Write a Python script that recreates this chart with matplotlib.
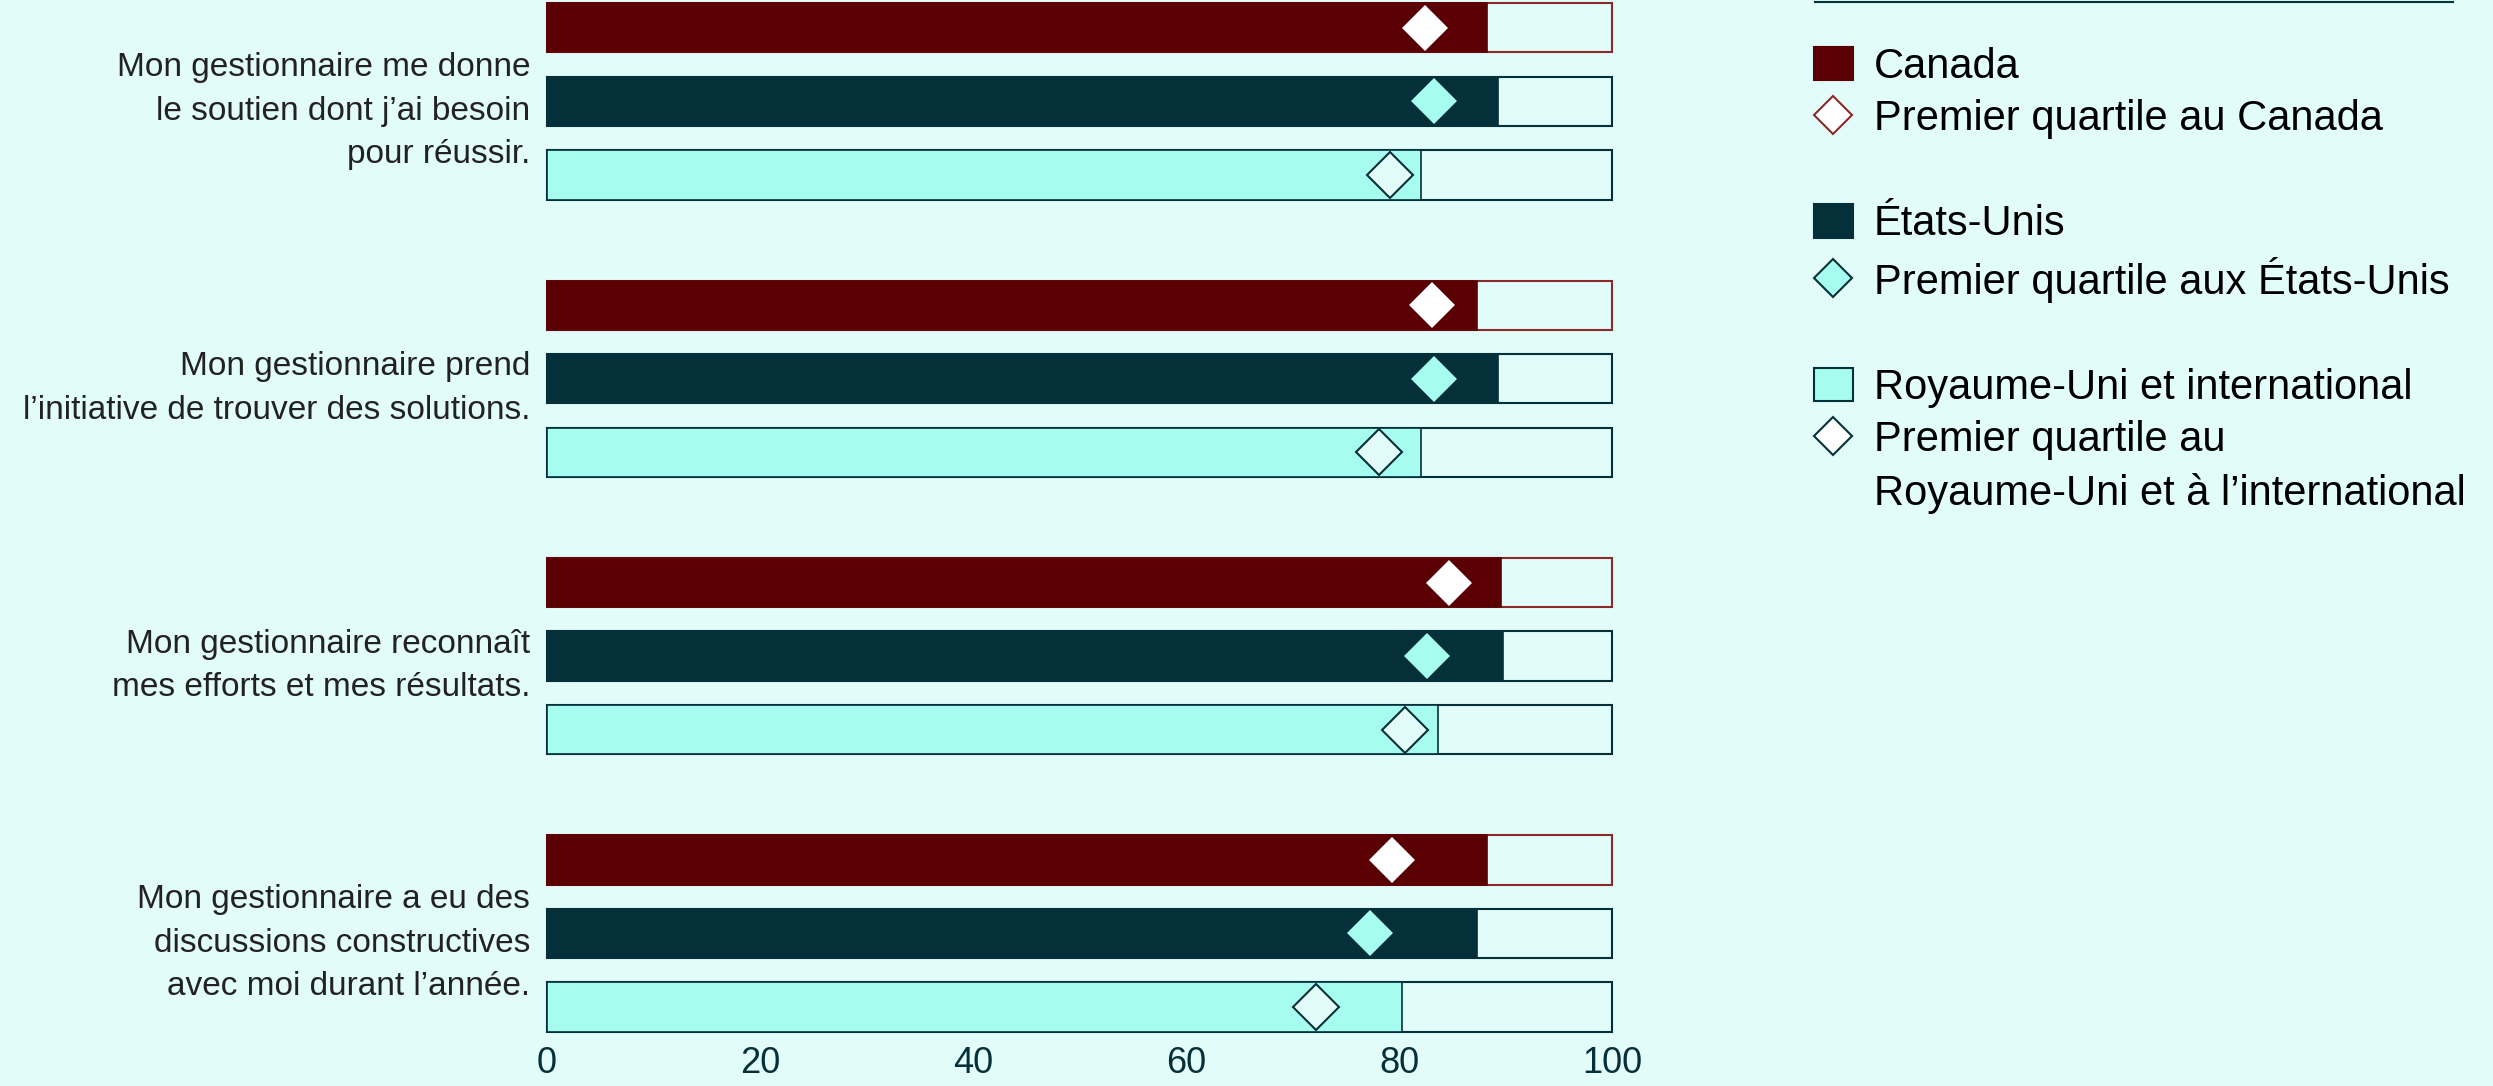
import matplotlib.pyplot as plt
from matplotlib.patches import Patch
from matplotlib.lines import Line2D
from matplotlib import font_manager

# police : version étroite si dispo
noms = {f.name for f in font_manager.fontManager.ttflist}
police = "Liberation Sans Narrow" if "Liberation Sans Narrow" in noms else "Liberation Sans"
plt.rcParams["font.family"] = [police, "DejaVu Sans"]

questions = [
    "Mon gestionnaire me donne\nle soutien dont j\u2019ai besoin\npour réussir.",
    "Mon gestionnaire prend\nl\u2019initiative de trouver des solutions.",
    "Mon gestionnaire reconnaît\nmes efforts et mes résultats.",
    "Mon gestionnaire a eu des\ndiscussions constructives\navec moi durant l\u2019année.",
]
regions = ["Canada", "États-Unis", "Royaume-Uni et international"]
quartiles = ["Premier quartile au Canada", "Premier quartile aux États-Unis",
             "Premier quartile au\nRoyaume-Uni et à l\u2019international"]

# scores (%) par question, dans l'ordre Canada / É.-U. / R.-U.
canada = [88.3, 87.3, 89.6, 88.3]
etats_unis = [89.3, 89.3, 89.8, 87.3]
royaume_uni = [82.1, 82.1, 83.7, 80.3]
q_canada = [82.4, 83.1, 84.7, 79.3]
q_etats_unis = [83.3, 83.3, 82.6, 77.3]
q_royaume_uni = [79.2, 78.1, 80.6, 72.2]
ticks_x = [0, 20, 40, 60, 80, 100]

fond = "#e1fcf9"
rouge = "#5a0005"
bord_rouge = "#8c2a2a"
sarcelle = "#05303a"
cyan = "#a6fcee"
texte = "#222222"

series = [
    (canada, q_canada, rouge, rouge, bord_rouge, "white", "none"),
    (etats_unis, q_etats_unis, sarcelle, sarcelle, sarcelle, cyan, "none"),
    (royaume_uni, q_royaume_uni, cyan, sarcelle, sarcelle, fond, sarcelle),
]

fig = plt.figure(figsize=(24.93, 10.86), dpi=100)
fig.patch.set_facecolor(fond)
ax = fig.add_axes([0.2194, 0.047, 0.4272, 0.953])
ax.set_facecolor(fond)

pas_groupe = 3.77
haut = 0.67
for g in range(len(questions)):
    for k, (vals, quart, coul, bord, bord_fond, coul_d, bord_d) in enumerate(series):
        y = g * pas_groupe + k
        ax.barh(y, 100, height=haut, color=fond, edgecolor=bord_fond, linewidth=1.5, zorder=1, clip_on=False)
        ax.barh(y, vals[g], height=haut, color=coul, edgecolor=bord, linewidth=1.2, zorder=2, clip_on=False)
        ax.plot(quart[g], y, marker="D", markersize=23, markerfacecolor=coul_d,
                markeredgecolor=bord_d, markeredgewidth=1.5, zorder=3, clip_on=False)

ax.set_xlim(0, 100)
ax.set_ylim(13.69, -0.378)
ax.set_xticks(ticks_x)
ax.set_xticklabels([str(t) for t in ticks_x], fontsize=26, color=sarcelle)
ax.set_yticks([g * pas_groupe + 1 for g in range(len(questions))])
ax.set_yticklabels(questions, fontsize=24, color=texte)
for lab in ax.get_yticklabels():
    lab.set_linespacing(1.52)
ax.tick_params(length=0, axis="y", pad=12)
ax.tick_params(length=0, axis="x", pad=8)
for s in ax.spines.values():
    s.set_visible(False)

# légende
vide = Patch(facecolor="none", edgecolor="none")
poignees = []
etiquettes = []
for k, (vals, quart, coul, bord, bord_fond, coul_d, bord_d) in enumerate(series):
    poignees.append(Patch(facecolor=coul, edgecolor=bord, linewidth=1.5))
    etiquettes.append(regions[k])
    poignees.append(Line2D([], [], linestyle="none", marker="D", markersize=19,
                           markerfacecolor="white" if k != 1 else cyan,
                           markeredgecolor=bord_rouge if k == 0 else sarcelle, markeredgewidth=1.5))
    lignes = quartiles[k].split("\n")
    etiquettes.append(lignes[0])
    if len(lignes) > 1:
        poignees.append(vide)
        etiquettes.append(lignes[1])
    elif k < 2:
        poignees.append(vide)
        etiquettes.append(" ")

fig.legend(poignees, etiquettes, loc="upper left", bbox_to_anchor=(0.7275, 0.957),
           frameon=False, fontsize=30, handlelength=0.95, handleheight=0.85,
           handletextpad=0.5, labelspacing=0.3, borderpad=0, borderaxespad=0)
fig.add_artist(Line2D([0.728, 0.984], [0.998, 0.998], color=sarcelle, linewidth=1.5))

fig.savefig("out.png", dpi=100, facecolor=fond)
